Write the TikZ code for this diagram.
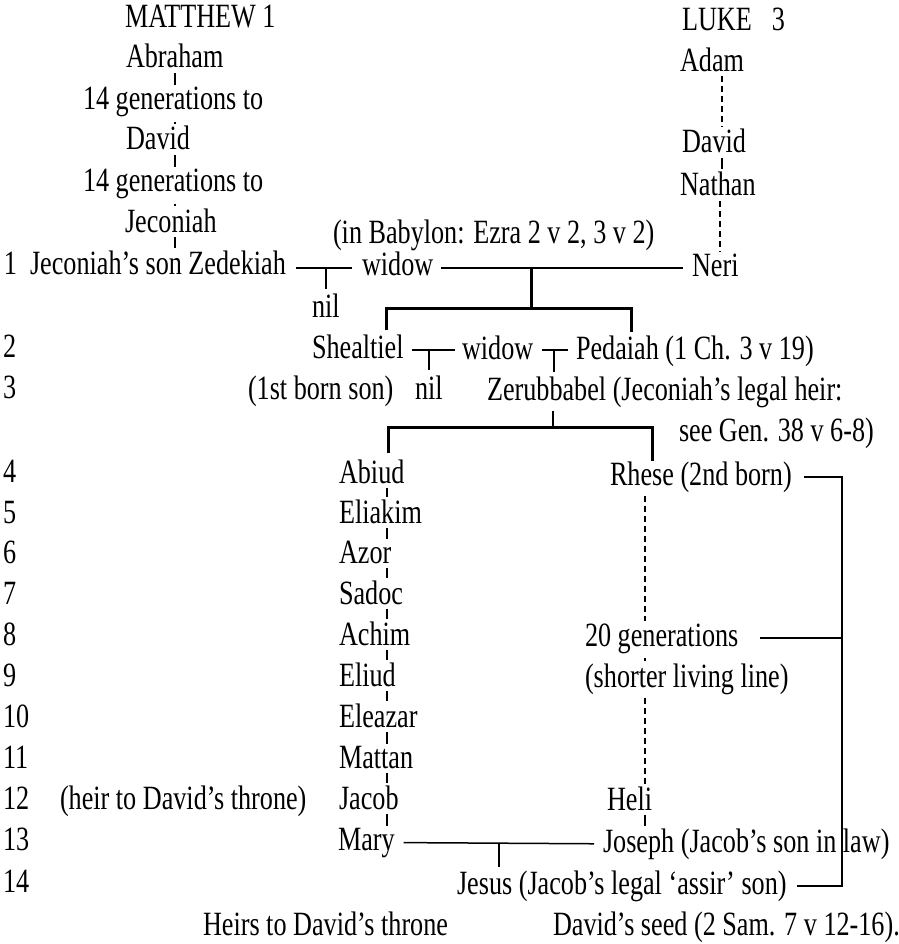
\documentclass[tikz,border=0pt]{standalone}
\usepackage{fontspec}
\setmainfont{Liberation Serif}[FakeStretch=0.77]
\begin{document}
\begin{tikzpicture}[x=1pt,y=-1pt,
  every node/.style={inner sep=0pt, outer sep=0pt, anchor=base west, font=\fontsize{34}{40}\selectfont},
  thinline/.style={line width=1.5pt},
  thickbar/.style={line width=3pt, line cap=butt},
  bracketline/.style={line width=2.2pt},
  dashline/.style={line width=1.4pt, dash pattern=on 6pt off 4pt},
  gtick/.style={line width=1.7pt, shorten <=5pt, shorten >=2pt}]
\useasboundingbox (0,0) rectangle (898,944);

% ---------- Matthew header column ----------
\node (matthew) at (125,28) {MATTHEW 1};
\node (abraham) at (126,68) {Abraham};
\node (gen1) at (83,110) {14 generations to};
\node (davidM) at (126,150) {David};
\node (gen2) at (83,192) {14 generations to};
\node (jeconiah) at (125,232) {Jeconiah};

% ---------- Luke header column ----------
\node (luke) at (682,31) {LUKE\hspace{20pt}3};
\node (adam) at (680,72) {Adam};
\node (davidL) at (682,153) {David};
\node (nathan) at (680,195) {Nathan};

% ---------- generation numbers ----------
\node (n1) at (4,274) {1};
\node (n2) at (3,357) {2};
\node (n3) at (3,398) {3};
\node (n4) at (3,482) {4};
\node (n5) at (3,523) {5};
\node (n6) at (3,563) {6};
\node (n7) at (3,604) {7};
\node (n8) at (3,645) {8};
\node (n9) at (3,686) {9};
\node (n10) at (3,727) {10};
\node (n11) at (3,768) {11};
\node (n12) at (3,809) {12};
\node (n13) at (3,850) {13};
\node (n14) at (3,892) {14};

% ---------- rows 1-3 ----------
\node (zed) at (30,274) {Jeconiah’s son Zedekiah};
\node (babylon) at (333,243) {(in Babylon: Ezra 2 v 2, 3 v 2)};
\node (widow1) at (362,275) {widow};
\node (neri) at (692,276) {Neri};
\node (nil1) at (312,317) {nil};
\node (shealtiel) at (312,358) {Shealtiel};
\node (widow2) at (462,359) {widow};
\node (pedaiah) at (576,359) {Pedaiah (1 Ch. 3 v 19)};
\node (firstborn) at (248,399) {(1st born son)};
\node (nil2) at (415,399) {nil};
\node (zerub) at (487,400) {Zerubbabel (Jeconiah’s legal heir:};
\node (seegen) at (679,441) {see Gen. 38 v 6-8)};

% ---------- rows 4-14 ----------
\node (abiud) at (339,483) {Abiud};
\node (eliakim) at (339,523) {Eliakim};
\node (azor) at (339,563) {Azor};
\node (sadoc) at (339,604) {Sadoc};
\node (achim) at (339,645) {Achim};
\node (eliud) at (339,686) {Eliud};
\node (eleazar) at (339,727) {Eleazar};
\node (mattan) at (339,768) {Mattan};
\node (jacob) at (339,809) {Jacob};
\node (mary) at (338,850) {Mary};
\node (heirthrone) at (60,809) {(heir to David’s throne)};

\node (rhese) at (610,485) {Rhese (2nd born)};
\node (gen20) at (585,646) {20 generations};
\node (shorter) at (585,687) {(shorter living line)};
\node (heli) at (607,810) {Heli};
\node (joseph) at (603,852) {Joseph (Jacob’s son in law)};
\node (jesus) at (457,894) {Jesus (Jacob’s legal ‘assir’ son)};

\node (foot1) at (203,935) {Heirs to David’s throne};
\node (foot2) at (553,935) {David’s seed (2 Sam. 7 v 12-16).};

% ---------- helper coordinates ----------
\coordinate (mx) at (175,0);
\coordinate (ax) at (387,0);
\coordinate (lx) at (722,0);
\coordinate (lx2) at (720,0);
\coordinate (rx) at (645,0);
\coordinate (bx) at (842,0);
\coordinate (l1) at (0,268);
\coordinate (s1) at (531,268);
\coordinate (b1l) at (386,308);
\coordinate (b1r) at (631,308);
\coordinate (l2) at (0,350);
\coordinate (s2) at (554,350);
\coordinate (s3) at (553,0);
\coordinate (b3l) at (388,427);
\coordinate (b3r) at (652,427);
\coordinate (s4) at (499,0);

% ---------- Matthew ticks ----------
\draw[gtick] (abraham.south -| mx) -- (gen1.north -| mx);
\draw[gtick] (gen1.south -| mx) -- (davidM.north -| mx);
\draw[gtick] (davidM.south -| mx) -- (gen2.north -| mx);
\draw[gtick] (gen2.south -| mx) -- (jeconiah.north -| mx);
\draw[gtick] (jeconiah.south -| mx) -- (zed.north -| mx);

% ---------- Luke line ----------
\draw[dashline, shorten <=4pt, shorten >=2pt] (adam.south -| lx) -- (davidL.north -| lx);
\draw[gtick] (davidL.south -| lx) -- (nathan.north -| lx);
\draw[dashline, shorten <=6pt, shorten >=2pt] (nathan.south -| lx2) -- (neri.north -| lx2);

% ---------- row 1 marriage ----------
\draw[thinline, shorten <=10pt, shorten >=10pt] (zed.east |- l1) -- (widow1.west |- l1);
\draw[thinline, shorten >=4pt] (nil1.north |- l1) -- (nil1.north);
\draw[thinline, shorten <=8pt, shorten >=9pt] (widow1.east |- l1) -- (neri.west |- l1);
\draw[thickbar] (s1) -- (s1 |- b1l);
\draw[thickbar, line join=miter, shorten >=3pt] (b1l |- shealtiel.north) ++(0,-4) -- (b1l) -- (b1r) -- (b1r |- pedaiah.north);

% ---------- row 2 marriage ----------
\draw[thinline, shorten <=8pt, shorten >=7pt] (shealtiel.east |- l2) -- (widow2.west |- l2);
\draw[thinline, shorten >=5pt] (nil2.north |- l2) -- (nil2.north);
\draw[thinline, shorten <=9pt, shorten >=8pt] (widow2.east |- l2) -- (pedaiah.west |- l2);
\draw[thinline, shorten >=4pt] (s2) -- (s2 |- zerub.north);

% ---------- row 3 split ----------
\draw[thinline, shorten <=4pt] (s3 |- zerub.south) -- (s3 |- b3l);
\draw[thickbar, line join=miter] (ax |- abiud.north) ++(1,-6) -- (b3l) -- (b3r) -- (b3r |- rhese.north);

% ---------- Matthew line 4-13 ----------
\draw[gtick] (abiud.south -| ax) -- (eliakim.north -| ax);
\draw[gtick] (eliakim.south -| ax) -- (azor.north -| ax);
\draw[gtick] (azor.south -| ax) -- (sadoc.north -| ax);
\draw[gtick] (sadoc.south -| ax) -- (achim.north -| ax);
\draw[gtick] (achim.south -| ax) -- (eliud.north -| ax);
\draw[gtick] (eliud.south -| ax) -- (eleazar.north -| ax);
\draw[gtick] (eleazar.south -| ax) -- (mattan.north -| ax);
\draw[gtick] (mattan.south -| ax) -- (jacob.north -| ax);
\draw[gtick] (jacob.south -| ax) -- (mary.north -| ax);

% ---------- Luke line 4-13 ----------
\draw[dashline, shorten <=4pt, shorten >=2pt] (rhese.south -| rx) -- (gen20.north -| rx);
\draw[gtick] (gen20.south -| rx) -- (shorter.north -| rx);
\draw[dashline, shorten <=4pt, shorten >=2pt] (shorter.south -| rx) -- (heli.north -| rx);
\draw[gtick] (heli.south -| rx) -- (joseph.north -| rx);

% ---------- Mary and Joseph ----------
\draw[thinline, shorten <=9pt, shorten >=9pt] (mary.east) -- (joseph.west);
\draw[thinline, shorten >=3pt] (s4 |- mary.east) -- (s4 |- jesus.north);

% ---------- right bracket ----------
\draw[bracketline, line join=miter, shorten <=12pt, shorten >=10pt] (rhese.east) -- (rhese.east -| bx) -- (jesus.east -| bx) -- (jesus.east);
\draw[bracketline, shorten <=22pt] (gen20.east) -- (gen20.east -| bx);
\end{tikzpicture}
\end{document}
